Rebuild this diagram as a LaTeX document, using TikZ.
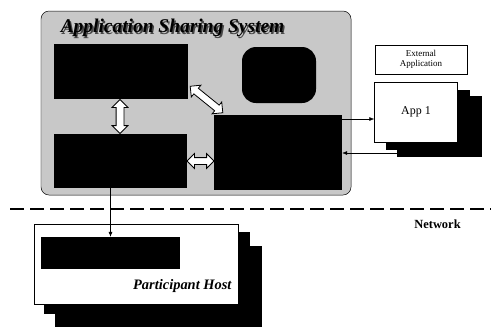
\documentclass[tikz,border=0pt]{standalone}
\usepackage{fontspec}
\setmainfont{Liberation Serif}
\usetikzlibrary{shapes.arrows,arrows.meta,calc}
\definecolor{panelgray}{RGB}{200,200,200}
\tikzset{
  whitebox/.style={draw=black,fill=white,line width=0.5pt,inner sep=0pt},
  shadowbox/.style={fill=black,inner sep=0pt},
  dbl/.style={double arrow,draw=black,fill=white,line width=0.8pt,inner xsep=0pt,
    inner ysep=#1,double arrow head extend=4bp},
  conn/.style={draw=black,line width=0.5pt,-{Latex[length=5bp,width=4bp]}},
}
\begin{document}
\begin{tikzpicture}[x=1bp,y=-1bp]
\useasboundingbox[fill=white] (0,0) rectangle (491,326);
% main panel
\node[draw=black,fill=panelgray,rounded corners=8bp,line width=0.5pt,inner sep=0pt,
  minimum width=310bp,minimum height=184bp] (sys) at (196,103) {};
\node[text=gray!55!black,font=\bfseries\itshape\fontsize{19.5}{22}\selectfont] at (174,29.5) {Application Sharing System};
\node[text=black,font=\bfseries\itshape\fontsize{19.5}{22}\selectfont] (title) at (172.5,28) {Application Sharing System};
% inner blocks
\node[fill=black,inner sep=0pt,minimum width=134bp,minimum height=55bp] (A) at (121,71.5) {};
\node[fill=black,inner sep=0pt,rounded corners=14bp,minimum width=74bp,minimum height=56bp] (B) at (279,75) {};
\node[fill=black,inner sep=0pt,minimum width=133bp,minimum height=54bp] (C) at (120.5,161) {};
\node[fill=black,inner sep=0pt,minimum width=128bp,minimum height=75bp] (D) at (278,152.5) {};
% double arrows
\node[dbl=3.5bp,rotate=90,minimum height=34bp] (v) at (120,116.5) {};
\node[dbl=3.2bp,rotate=-39,minimum height=42bp] (dg) at (206.5,99.5) {};
\node[dbl=3bp,minimum height=27bp] (h) at (200.5,161) {};
% external application
\node[whitebox,minimum width=92bp,minimum height=29bp,align=center,
  font=\fontsize{9}{10.5}\selectfont] (ext) at (421,59.5) {External\\Application};
% App 1 stack
\node[shadowbox,minimum width=85bp,minimum height=61bp] (app3) at (439.5,126.5) {};
\node[shadowbox,minimum width=84bp,minimum height=60bp] (app2) at (428,120) {};
\node[whitebox,minimum width=83bp,minimum height=60bp,font=\fontsize{12}{14}\selectfont] (app1) at (416,112) {App 1};
% connectors to app
\draw[conn] ([xshift=-13bp]D.north east) |- ([yshift=-7bp]app1.west);
\coordinate (ret) at (397,153);
\draw[conn] (ret) -- (ret -| D.east);
% network line
\coordinate (nl) at (10,209);
\coordinate (nr) at (491,209);
\draw[line width=1.6pt,dash pattern=on 14bp off 6bp] (nl) -- (nr);
\node[font=\bfseries\fontsize{12.5}{14}\selectfont] (net) at (437.5,224) {Network};
% participant host stack
\node[shadowbox,minimum width=207bp,minimum height=82bp] (ph3) at (158.5,287) {};
\node[shadowbox,minimum width=206bp,minimum height=82bp] (ph2) at (147,273) {};
\node[whitebox,minimum width=204bp,minimum height=80bp] (ph) at (136,264) {};
\node[fill=black,inner sep=0pt,minimum width=139bp,minimum height=32bp] (pin) at (110.5,253) {};
\node[font=\bfseries\itshape\fontsize{14.5}{16}\selectfont,anchor=east] (phl) at (235,286) {Participant Host};
\draw[conn] (C.south -| pin.north) -- (pin.north);
\end{tikzpicture}
\end{document}
